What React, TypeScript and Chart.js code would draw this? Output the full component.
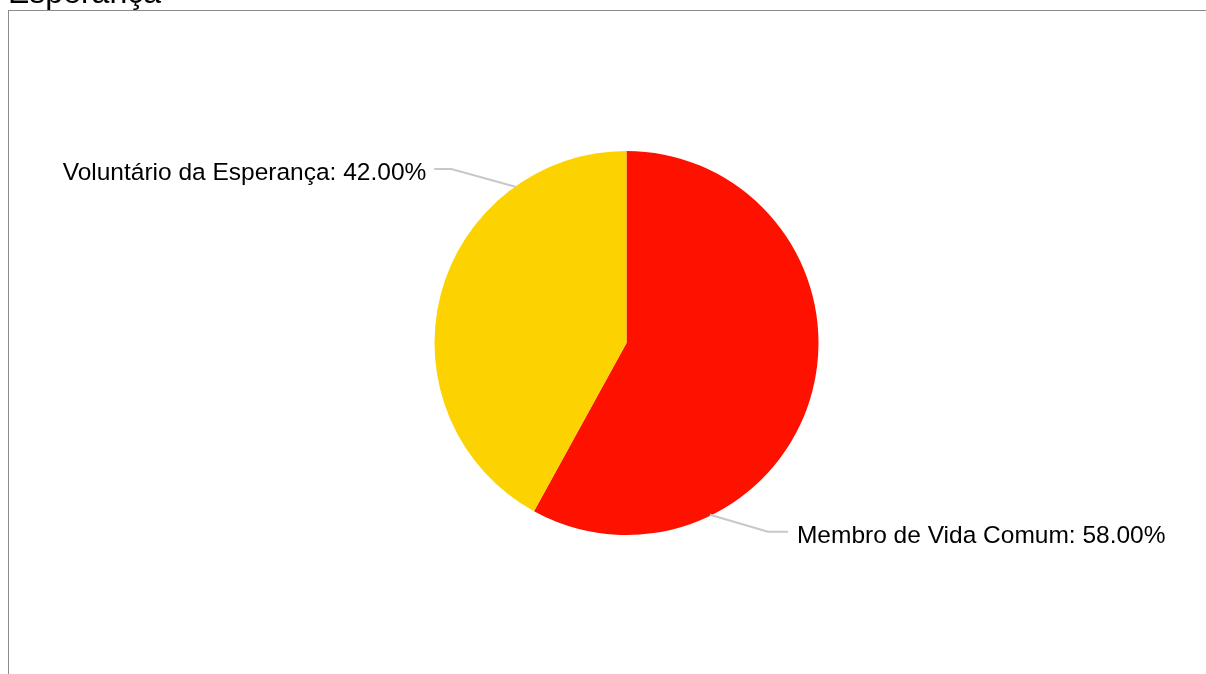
import React, { useEffect, useRef } from "react";
import { Chart, registerables } from "chart.js";

Chart.register(...registerables);

const titleText = "Esperança";
const categories = ["Membro de Vida Comum", "Voluntário da Esperança"];
const shareValues = [58, 42];
const sliceColors = ["#ff1100", "#fcd200"];

// label leader-line layout (styles / positions only)
const labelLayout = [
  { anchorFrac: 0.738, elbowDx: 58, elbowDy: 17, tail: 20, gap: 9 },
  { anchorFrac: 0.767, elbowDx: -65, elbowDy: -18, tail: 17, gap: 8 },
];

const leaderPlugin = {
  id: "leaderLabels",
  afterDraw(chart: any) {
    const ctx = chart.ctx;
    const meta = chart.getDatasetMeta(0);
    const data = chart.data.datasets[0].data as number[];
    const total = data.reduce((a, b) => a + b, 0);
    ctx.save();
    meta.data.forEach((arc: any, i: number) => {
      const p = arc.getProps(["x", "y", "startAngle", "endAngle", "outerRadius"], true);
      const lay = labelLayout[i];
      const a = p.startAngle + lay.anchorFrac * (p.endAngle - p.startAngle);
      const r = p.outerRadius - 1;
      const ax = p.x + r * Math.cos(a);
      const ay = p.y + r * Math.sin(a);
      const ex = ax + lay.elbowDx;
      const ey = ay + lay.elbowDy;
      const dir = lay.elbowDx >= 0 ? 1 : -1;
      const tx = ex + dir * lay.tail;
      ctx.strokeStyle = "#c8c8c8";
      ctx.lineWidth = 2;
      ctx.beginPath();
      ctx.moveTo(ax, ay);
      ctx.lineTo(ex, ey);
      ctx.lineTo(tx, ey);
      ctx.stroke();
      const pct = ((data[i] / total) * 100).toFixed(2) + "%";
      const label = `${chart.data.labels[i]}: ${pct}`;
      ctx.fillStyle = "#000000";
      ctx.font = "24.5px 'Liberation Sans', Arial, sans-serif";
      ctx.textBaseline = "alphabetic";
      ctx.textAlign = dir > 0 ? "left" : "right";
      ctx.fillText(label, tx + dir * lay.gap, ey + 11);
    });
    ctx.restore();
  },
};

export default function App() {
  const canvasRef = useRef<HTMLCanvasElement | null>(null);

  useEffect(() => {
    document.documentElement.style.overflow = "hidden";
    const canvas = canvasRef.current;
    if (!canvas) return;
    const chart = new Chart(canvas, {
      type: "pie",
      data: {
        labels: categories,
        datasets: [
          {
            data: shareValues,
            backgroundColor: sliceColors,
            borderWidth: 0,
            hoverOffset: 0,
            offset: 0,
          },
        ],
      },
      options: {
        animation: false,
        responsive: false,
        devicePixelRatio: 1,
        events: [],
        layout: { padding: { top: 140, bottom: 139, left: 400, right: 362 } },
        plugins: {
          legend: { display: false },
          tooltip: { enabled: false },
          title: { display: false },
        },
      },
      plugins: [leaderPlugin],
    });
    return () => chart.destroy();
  }, []);

  return (
    <div style={{ position: "relative", height: 600 }}>
      <div
        style={{
          position: "fixed",
          left: 8,
          top: 10,
          borderLeft: "1px solid #8c8c8c",
          borderTop: "1px solid #8c8c8c",
          width: 1197,
          height: 663,
          background: "#ffffff",
        }}
      >
        <canvas
          ref={canvasRef}
          width={1197}
          height={663}
          style={{ display: "block", width: 1197, height: 663 }}
        />
      </div>
      <div
        style={{
          position: "fixed",
          left: 8,
          top: -24,
          fontFamily: "'Liberation Sans', Arial, sans-serif",
          fontSize: 32,
          lineHeight: "32px",
          color: "#000",
          whiteSpace: "nowrap",
        }}
      >
        {titleText}
      </div>
    </div>
  );
}
